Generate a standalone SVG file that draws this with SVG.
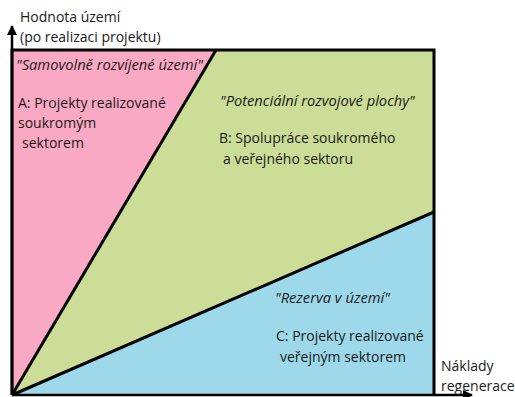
<svg xmlns="http://www.w3.org/2000/svg" width="515" height="397" viewBox="0 0 515 397">
<style>
text{font-family:"Open Sans","Noto Sans",sans-serif;font-size:14px;fill:#1a1a1a}
.i{font-style:italic;font-size:14.7px}
.ln{stroke:#000;stroke-width:3;fill:none}
</style>
<defs>
<marker id="ah" viewBox="0 0 10 10" refX="9" refY="5" markerWidth="4" markerHeight="4" orient="auto"><path d="M0,0 L10,5 L0,10 z" fill="#000"/></marker>
</defs>
<rect width="515" height="397" fill="#fff"/>
<g id="region-a"><polygon points="12,50 216,50 12,395" fill="#FAA9C4"/></g>
<g id="region-b"><polygon points="216,50 434,50 434,212 12,395" fill="#CCDD98"/></g>
<g id="region-c"><polygon points="434,212 434,395 12,395" fill="#9DD9EA"/></g>
<g id="connectors">
<polyline class="ln" points="12,395 12,50 434,50 434,395"/>
<line class="ln" x1="12" y1="395" x2="216" y2="50"/>
<line class="ln" x1="12" y1="395" x2="434" y2="212"/>
<line x1="12" y1="395" x2="12" y2="26" stroke="#000" stroke-width="2.5" marker-end="url(#ah)"/>
<line x1="12" y1="395" x2="472" y2="395" stroke="#000" stroke-width="2.5" marker-end="url(#ah)"/>
</g>
<g id="labels">
<text x="20" y="22">Hodnota území</text>
<text x="20" y="42">(po realizaci projektu)</text>
<text class="i" x="16" y="70">"Samovolně rozvíjené území"</text>
<text x="18" y="108">A: Projekty realizované</text>
<text x="18" y="128">soukromým</text>
<text x="22" y="148">sektorem</text>
<text class="i" x="220" y="106">"Potenciální rozvojové plochy"</text>
<text x="219" y="143">B: Spolupráce soukromého</text>
<text x="223" y="164">a veřejného sektoru</text>
<text class="i" x="275" y="303">"Rezerva v území"</text>
<text x="276" y="341">C: Projekty realizované</text>
<text x="280" y="362">veřejným sektorem</text>
<text x="441" y="371">Náklady</text>
<text x="441" y="391">regenerace</text>
</g>
</svg>
